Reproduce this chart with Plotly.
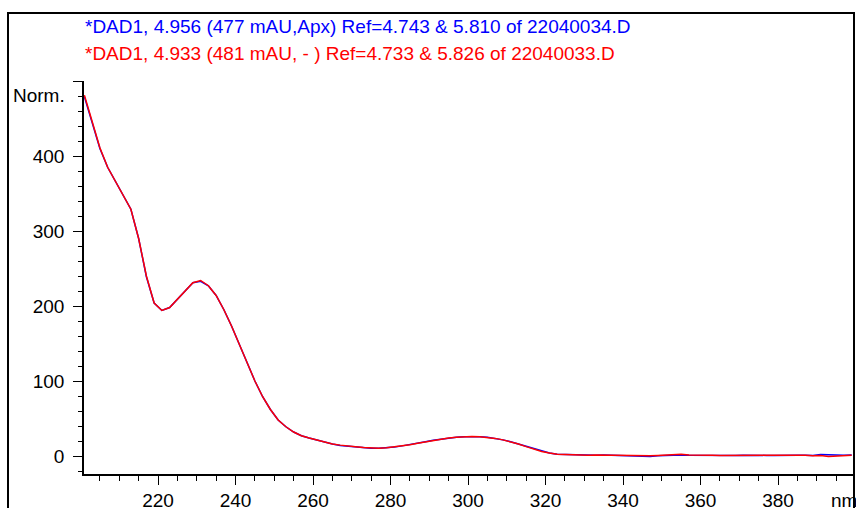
import plotly.graph_objects as go

wavelength = list(range(201, 400, 2))

blue_vals = [479, 444, 410, 385, 367, 348, 329, 290, 239, 204,
             194, 198, 209, 221, 231, 233, 227, 214, 195, 173,
             149, 124, 100, 79, 62, 48, 39, 32, 27, 24,
             21, 18, 16, 14, 13, 12, 11, 10.5, 10.5, 11,
             12, 13.5, 15, 17, 19, 21, 22.5, 24, 25, 25.8,
             26, 25.8, 25, 23.5, 21.5, 19, 16, 12.5, 9, 6,
             4, 2.5, 2, 1.5, 1.2, 1, 1, 1.2, 1, 0.8,
             0.5, 0.8, 0, -0.5, 0.5, 1, 1, 1.3, 1, 0.8,
             0.8, 1, 1.2, 1, 0.8, 1, 1.2, 1, 0.8, 0.7,
             1, 1.5, 1, 1, 0.8, 2, 1.5, 1, 1, 1.2]

red_vals = [481, 445, 411, 385, 367, 348, 329, 290, 240, 204,
            194, 198, 209, 221, 231, 234, 227, 214, 195, 173,
            149, 124, 100, 79, 62, 48, 39, 32, 27, 24,
            21, 18.5, 16, 14.5, 13, 12.5, 11.5, 10.5, 10.3, 11,
            12, 13.5, 15, 17, 19, 21, 22.5, 24, 25, 25.8,
            26, 25.8, 25, 23.5, 21.5, 19, 16, 12.5, 9, 6,
            4, 2.5, 2, 1.5, 1.2, 1, 1.2, 1, 1, 1,
            1, 1, 0.8, 0.5, 0.8, 1.2, 1.5, 2.2, 1.5, 1,
            1, 1, 0.8, 1, 1, 1.2, 1, 1, 1, 1,
            1.2, 1, 1, 1, 0.5, 0.8, -0.5, 0, 0.8, 1]

blue_title = "*DAD1, 4.956 (477 mAU,Apx) Ref=4.743 & 5.810 of 22040034.D"
red_title = "*DAD1, 4.933 (481 mAU, - ) Ref=4.733 & 5.826 of 22040033.D"

y_tickvals = [0, 100, 200, 300, 400, 500]
y_ticktext = ["0", "100", "200", "300", "400", ""]
x_tickvals = [220, 240, 260, 280, 300, 320, 340, 360, 380]

FONT = "Liberation Sans, Arial, sans-serif"
W, H = 856, 508
L, R, T, B = 84, 2, 81, 34
plot_h = H - T - B
plot_w = W - L - R


def py(ypx):
    return (H - B - ypx) / plot_h


def px(xpx):
    return (xpx - L) / plot_w


fig = go.Figure()
fig.add_trace(go.Scatter(x=wavelength, y=blue_vals, mode="lines",
                         line=dict(color="#0000ff", width=1.5), showlegend=False))
fig.add_trace(go.Scatter(x=wavelength, y=red_vals, mode="lines",
                         line=dict(color="#ff0000", width=1.5), showlegend=False))

fig.update_layout(
    width=W, height=H,
    margin=dict(l=L, r=R, t=T, b=B, autoexpand=False),
    plot_bgcolor="white", paper_bgcolor="white",
    font=dict(family=FONT, size=19, color="black"),
    showlegend=False,
    xaxis=dict(range=[200.9, 399.6], showgrid=False, zeroline=False, automargin=False,
               showline=True, linecolor="black", linewidth=1.5,
               ticks="outside", ticklen=9, tickwidth=1.2, tickcolor="black",
               tickvals=x_tickvals, ticklabelstandoff=-1,
               minor=dict(ticks="outside", ticklen=5, dtick=5, tick0=200,
                          tickcolor="black", tickwidth=1.2, showgrid=False),
               tickfont=dict(size=19, family=FONT)),
    yaxis=dict(range=[-24, 500], showgrid=False, zeroline=False, automargin=False,
               showline=True, linecolor="black", linewidth=1.5,
               ticks="outside", ticklen=9, tickwidth=1.2, tickcolor="black",
               tickvals=y_tickvals, ticktext=y_ticktext, ticklabelstandoff=5,
               minor=dict(ticks="outside", ticklen=4, dtick=20, tick0=0,
                          tickcolor="black", tickwidth=1.2, showgrid=False),
               tickfont=dict(size=19, family=FONT)),
)

# outer frame
fig.add_shape(type="rect", xref="paper", yref="paper",
              x0=px(8), x1=px(854), y0=py(530), y1=py(13),
              line=dict(color="black", width=2), fillcolor="rgba(0,0,0,0)", layer="below")

fig.add_annotation(text=blue_title, xref="paper", yref="paper",
                   x=px(83), y=py(26), xanchor="left", yanchor="middle",
                   showarrow=False, font=dict(color="#0000ff", size=19, family=FONT))
fig.add_annotation(text=red_title, xref="paper", yref="paper",
                   x=px(83), y=py(53), xanchor="left", yanchor="middle",
                   showarrow=False, font=dict(color="#ff0000", size=19, family=FONT))
fig.add_annotation(text="Norm.", xref="paper", yref="paper",
                   x=px(67), y=py(96), xanchor="right", yanchor="middle",
                   showarrow=False, font=dict(size=19, family=FONT))
fig.add_annotation(text="nm", xref="paper", yref="paper",
                   x=px(829), y=py(500), xanchor="left", yanchor="middle",
                   showarrow=False, font=dict(size=19, family=FONT))

fig.write_html("out.html")
